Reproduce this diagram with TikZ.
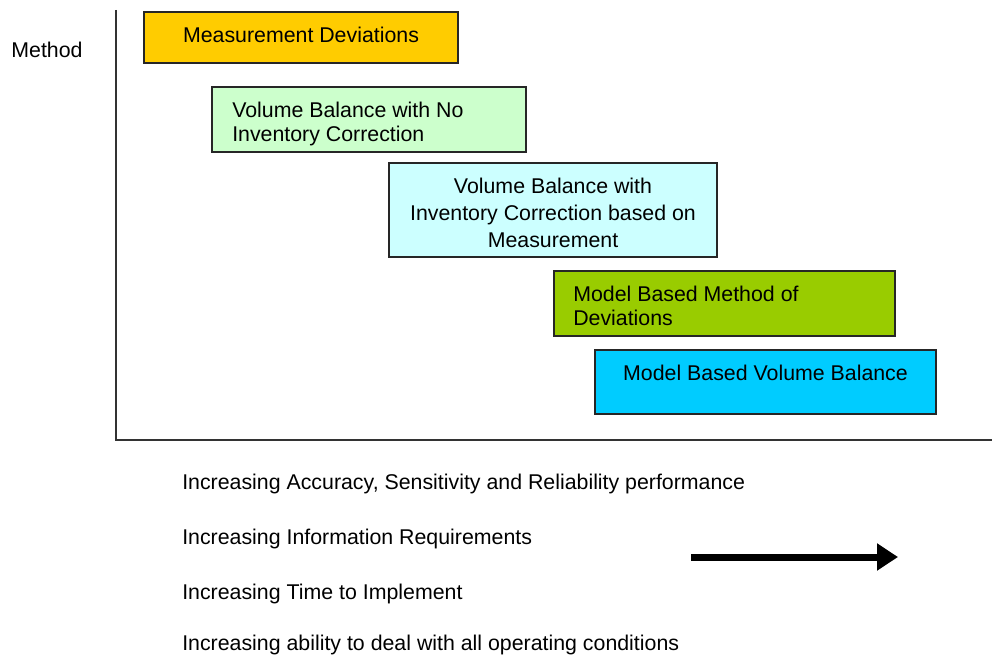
\documentclass[tikz,border=0pt]{standalone}
\usepackage{fontspec}
\setmainfont{Liberation Sans}
\usetikzlibrary{positioning,arrows.meta}

\definecolor{mdorange}{HTML}{FFCC00}
\definecolor{vbgreen}{HTML}{CCFFCC}
\definecolor{vbcyan}{HTML}{CCFFFF}
\definecolor{mbolive}{HTML}{99CC00}
\definecolor{mbblue}{HTML}{00CCFF}

\begin{document}
\begin{tikzpicture}[x=0.75pt,y=-0.75pt,font=\fontsize{16}{18}\selectfont,
	box/.style={draw=black!85,line width=1.5pt,anchor=north west,inner sep=0pt},
	txt/.style={inner sep=0pt,align=left},
	axis/.style={draw=black!80,line width=1.2pt}]
	\useasboundingbox (0,0) rectangle (992,656);

	% axes
	\coordinate (top) at (116,10);
	\coordinate (xend) at (992,440);
	\draw[axis] (top) |- (xend);
	\node[txt,anchor=base] (method) at (47,58) {Method};

	% methods
	\node[box,fill=mdorange,minimum width=235.5pt,minimum height=38.25pt] (md) at (143,11) {};
	\node[txt,align=center,below=12pt of md.north] (md_t) {Measurement Deviations};

	\node[box,fill=vbgreen,minimum width=235.5pt,minimum height=48.75pt] (vb) at (211,86) {};
	\node[txt,anchor=north west,below right=12pt and 15.75pt of vb.north west] (vb_t) {Volume Balance with No\\Inventory Correction};

	\node[box,fill=vbcyan,minimum width=246pt,minimum height=70.5pt] (vbi) at (388,162) {};
	\node[txt,align=center,font=\fontsize{16}{20.25}\selectfont,below=12pt of vbi.north] (vbi_t) {Volume Balance with\\Inventory Correction based on\\Measurement};

	\node[box,fill=mbolive,minimum width=255.75pt,minimum height=48.75pt] (mbm) at (553,270) {};
	\node[txt,anchor=north west,below right=12pt and 15pt of mbm.north west] (mbm_t) {Model Based Method of\\Deviations};

	\node[box,fill=mbblue,minimum width=255.75pt,minimum height=48pt] (mbv) at (594,349) {};
	\node[txt,align=center,below=12pt of mbv.north] (mbv_t) {Model Based Volume Balance};

	% trends
	\foreach \line/\ypos [count=\i] in {{Increasing Accuracy, Sensitivity and Reliability performance}/489,
		{Increasing Information Requirements}/544,{Increasing Time to Implement}/599,
		{Increasing ability to deal with all operating conditions}/650}
		\node[txt,anchor=base west] (trend\i) at (182,\ypos) {\line};

	\coordinate (arr_s) at (691,557);
	\coordinate (arr_e) at (898,557);
	\draw[line width=5.25pt,-{Triangle[length=15.75pt,width=19.5pt]}] (arr_s) -- (arr_e);
\end{tikzpicture}
\end{document}
